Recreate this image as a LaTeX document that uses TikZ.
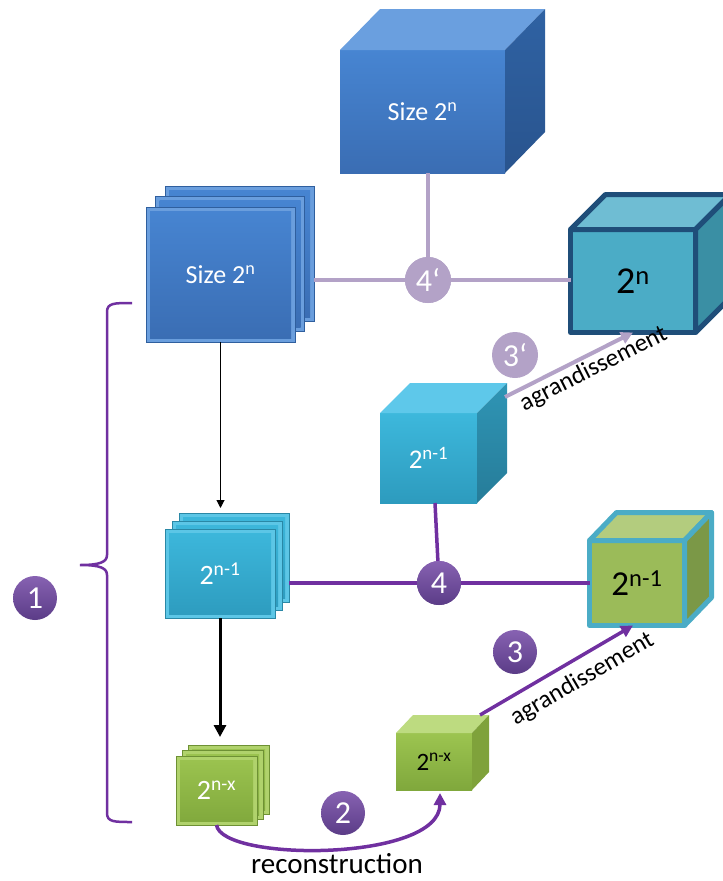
\documentclass[tikz,border=0pt]{standalone}
\usepackage{fontspec}
\setmainfont{Carlito}
\usetikzlibrary{calc,arrows.meta}
\definecolor{pdark}{HTML}{7030A0}
\definecolor{plight}{HTML}{B3A2C7}
\definecolor{circtop}{HTML}{8762B2}
\definecolor{circbot}{HTML}{5B3C87}
% blue
\definecolor{bedge}{HTML}{6A9EDD}
\definecolor{bline}{HTML}{2F5F9E}
\definecolor{btop}{HTML}{4785D2}
\definecolor{bbot}{HTML}{3A6DB3}
\definecolor{bface}{HTML}{6A9FDF}
\definecolor{bright}{HTML}{2F62A3}
\definecolor{brightb}{HTML}{29548E}
% cyan
\definecolor{cedge}{HTML}{5CC6E6}
\definecolor{cline}{HTML}{2A88A6}
\definecolor{ctop}{HTML}{3DB8DC}
\definecolor{cbot}{HTML}{2D9BBE}
\definecolor{cface}{HTML}{5EC8EA}
\definecolor{cright}{HTML}{2F95B5}
\definecolor{crightb}{HTML}{267C99}
% green
\definecolor{gedge}{HTML}{B0D26C}
\definecolor{gline}{HTML}{6E9134}
\definecolor{gtop}{HTML}{9CC450}
\definecolor{gbot}{HTML}{80A83C}
\definecolor{gface}{HTML}{BDDB80}
\definecolor{gright}{HTML}{7FA23B}
% big cubes
\definecolor{rfront}{HTML}{4BACC6}
\definecolor{rtop}{HTML}{6FBDD3}
\definecolor{rright}{HTML}{3A8FA4}
\definecolor{rborder}{HTML}{1F4E79}
\definecolor{gfront}{HTML}{9BBB59}
\definecolor{gftop}{HTML}{B3CC7E}
\definecolor{gfright}{HTML}{7B9847}
\newcommand{\cubesides}[5]{%
  \path[#4] (#1.north west) -- ++(#2,#3) -- ($(#1.north east)+(#2,#3)$) -- (#1.north east) -- cycle;
  \path[#5] (#1.north east) -- ++(#2,#3) -- ($(#1.south east)+(#2,#3)$) -- (#1.south east) -- cycle;
}
\tikzset{
  face/.style={rectangle, inner sep=0pt, outer sep=0pt},
  fs/.style={font=\fontsize{#1}{#1}\selectfont},
  lline/.style={draw=plight, line width=4pt},
  dline/.style={draw=pdark, line width=3.5pt},
  larrow/.style={lline, -{Triangle[length=12pt,width=12pt]}},
  darrow/.style={dline, -{Triangle[length=12pt,width=12pt]}},
  numd/.style={circle, minimum size=44pt, inner sep=0pt, top color=circtop, bottom color=circbot, text=white, fs=32},
  numl/.style={circle, minimum size=46pt, inner sep=0pt, fill=plight, text=white, fs=32},
  bevel/.style n args={4}{face, fill=#1, draw=#2, line width=0.8pt,
    path picture={\shade[top color=#3, bottom color=#4] ($(path picture bounding box.south west)+(4,-4)$) rectangle ($(path picture bounding box.north east)+(-4,4)$);}},
  bsq/.style={bevel={bedge}{bline}{btop}{bbot}},
  csq/.style={bevel={cedge}{cline}{ctop}{cbot}},
  gsq/.style={bevel={gedge}{gline}{gtop}{gbot}},
}
\begin{document}
\begin{tikzpicture}[x=1pt,y=-1pt]
\useasboundingbox (0,0) rectangle (723,881);

% ---------- top cube ----------
\node[face, minimum width=165pt, minimum height=123pt, top color=btop, bottom color=bbot, text=white, fs=26] (T) at (422.5,111.5) {Size 2\textsuperscript{n}};
\cubesides{T}{40}{-41}{fill=bface}{top color=bright, bottom color=brightb}

% ---------- top stack ----------
\node[bsq, minimum width=149pt, minimum height=135pt] (sA3) at (239.5,253.5) {};
\node[bsq, minimum width=149pt, minimum height=135pt] (sA2) at (230,264) {};
\node[bsq, minimum width=149pt, minimum height=135pt, text=white, fs=26] (sA1) at (220.5,274.5) {Size 2\textsuperscript{n}};

% ---------- right big cube 2^n ----------
\node[face, minimum width=125pt, minimum height=103pt, fill=rfront, draw=rborder, line width=5pt, line join=round, fs=38] (R) at (633,281) {2\textsuperscript{n}};
\cubesides{R}{35}{-35}{fill=rtop, draw=rborder, line width=5pt, line join=round}{fill=rright, draw=rborder, line width=5pt, line join=round}

% ---------- middle cube 2^{n-1} ----------
\node[face, minimum width=97pt, minimum height=90pt, top color=ctop, bottom color=cbot, text=white, fs=27] (M) at (428.5,458) {2\textsuperscript{n-1}};
\cubesides{M}{30}{-30}{fill=cface}{top color=cright, bottom color=crightb}

% ---------- middle stack ----------
\node[csq, minimum width=110pt, minimum height=89pt] (sB3) at (234,557.5) {};
\node[csq, minimum width=110pt, minimum height=89pt] (sB2) at (227,565.5) {};
\node[csq, minimum width=110pt, minimum height=89pt, text=white, fs=28] (sB1) at (220,573.5) {2\textsuperscript{n-1}};

% ---------- green big cube ----------
\node[face, minimum width=95pt, minimum height=85pt, fill=gfront, draw=rfront, line width=5pt, line join=round, fs=35] (G) at (637,583) {2\textsuperscript{n-1}};
\cubesides{G}{27}{-28}{fill=gftop, draw=rfront, line width=5pt, line join=round}{fill=gfright, draw=rfront, line width=5pt, line join=round}

% ---------- bottom stack ----------
\node[gsq, minimum width=81pt, minimum height=69pt] (sC3) at (228.5,779.5) {};
\node[gsq, minimum width=81pt, minimum height=69pt] (sC2) at (222.5,785) {};
\node[gsq, minimum width=81pt, minimum height=69pt, text=white, fs=28] (sC1) at (216.5,790.5) {2\textsuperscript{n-x}};

% ---------- small green cube ----------
\node[face, minimum width=76pt, minimum height=57pt, top color=gtop, bottom color=gbot, fs=25] (S) at (434,761.5) {2\textsuperscript{n-x}};
\cubesides{S}{17}{-18}{fill=gface}{fill=gright}

% ---------- connectors ----------
\node[numl] (c4p) at (428,280) {4‘};
\node[numl] (c3p) at (515,355) {3‘};
\node[numd] (c4) at (439,583) {4};
\node[numd] (c3) at (515,652) {3};
\node[numd] (c2) at (343,813) {2};
\node[numd] (c1) at (35,598) {1};

\draw[lline] (T.south -| c4p) -- (c4p);
\draw[lline] (sA3.east |- c4p) -- (c4p);
\draw[lline] (c4p) -- (R.west |- c4p);
\draw[larrow] ($(M.north east)+(28,-16)$) -- (R.south) node[pos=0.64, sloped, below, inner sep=2pt, text=black, fs=25] {agrandissement};

\draw[dline] ($(M.south)+(6.5,0)$) -- (c4);
\draw[dline] (sB3.east |- c4) -- (c4);
\draw[dline] (c4) -- (G.west |- c4);
\draw[darrow] ($(S.north east)+(8,-18)$) -- ($(G.south)+(-4,0)$) node[pos=0.6, sloped, below=6pt, inner sep=2pt, text=black, fs=25] {agrandissement};

\draw[darrow] (sC1.south) .. controls (222,862) and (440,862) .. ($(S.south)+(6,3)$);
\node[fs=29, inner sep=0pt] (rec) at (337,864) {reconstruction};

\draw[line width=1pt, -{Triangle[length=8pt,width=8pt]}] (sA1.south) -- ($(sA1.south |- sB3.north)+(0,-5)$);
\draw[line width=3pt, -{Triangle[length=12pt,width=12pt]}] (sB1.south) -- ($(sB1.south |- sC3.north)+(0,-8)$);

% brace
\draw[pdark, line width=2.5pt] (132,303) .. controls (114,303) and (107,303) .. (107,312) -- (107,555) .. controls (107,562) and (100,565) .. (80,565) .. controls (100,565) and (107,568) .. (107,575) -- (107,813) .. controls (107,822) and (114,822) .. (132,822);

% circles on top of the lines
\node[numl] at (c4p) {4‘};
\node[numd] at (c4) {4};
\end{tikzpicture}
\end{document}
